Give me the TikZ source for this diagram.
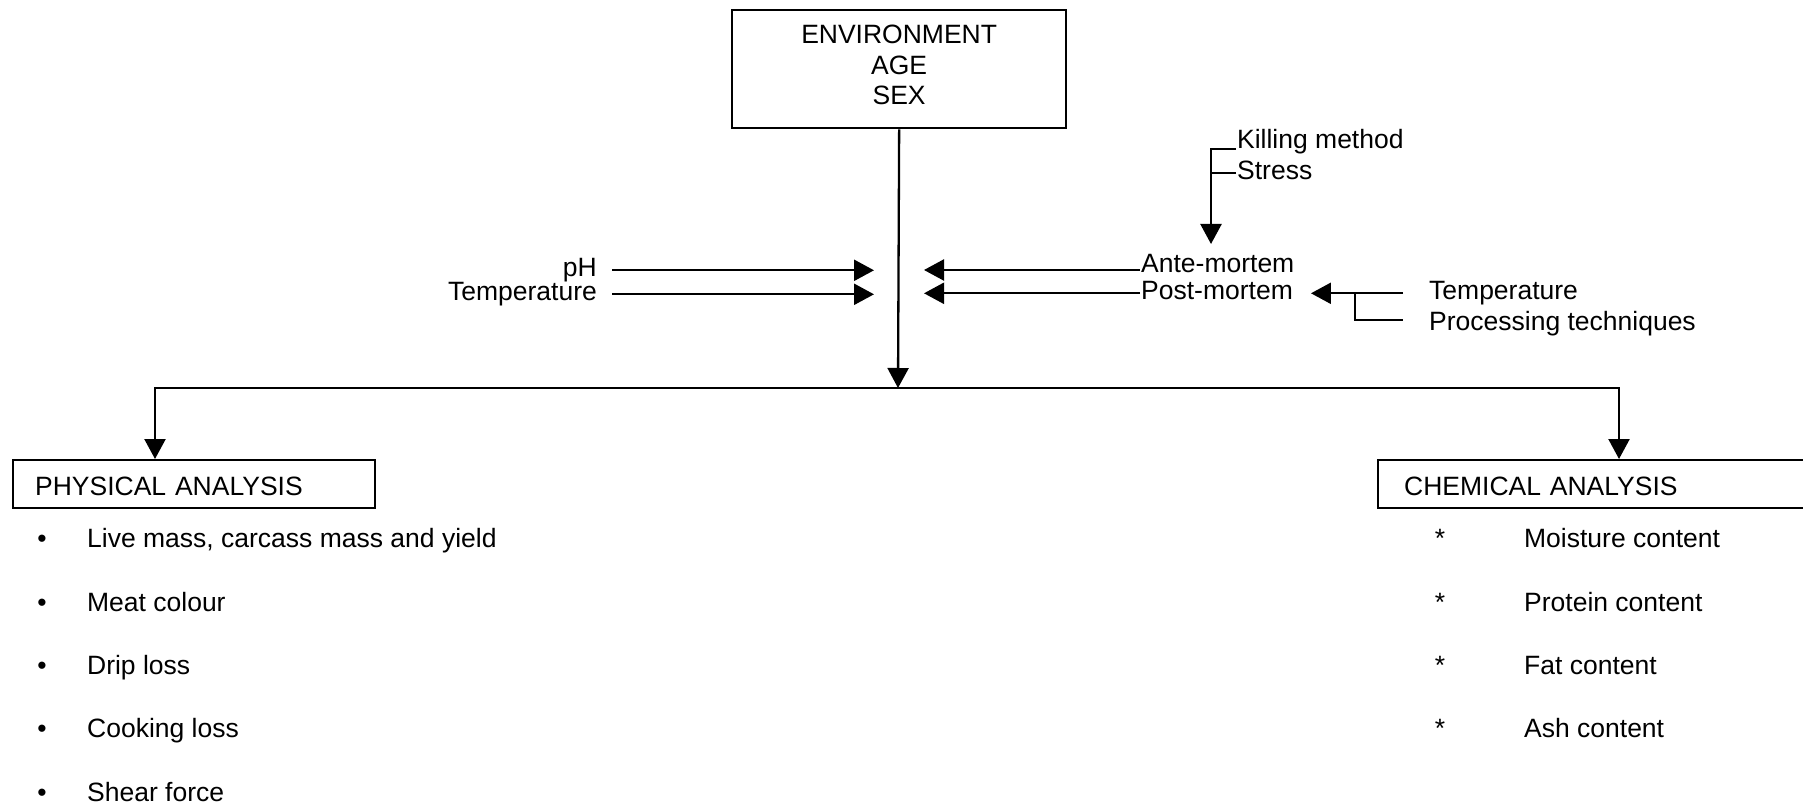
\documentclass[tikz,border=0pt]{standalone}
\usepackage{fontspec}
\setmainfont{Liberation Sans}
\usetikzlibrary{arrows.meta}
\begin{document}
\begin{tikzpicture}[x=0.5pt,y=-0.5pt,
  font=\fontsize{13.25}{15.25}\selectfont,
  line width=1.15pt,
  arr/.style={-{Triangle[length=10pt,width=10.5pt]}},
  lbl/.style={inner sep=0pt, text height=9.5pt, text depth=2.8pt},
  boxnode/.style={draw, inner ysep=0pt, text height=12pt, text depth=1pt, minimum height=24pt, align=left}]
\useasboundingbox[fill=white] (0,0) rectangle (1803,807);

% top box
\node[draw, anchor=north west, minimum width=167pt, minimum height=59pt, align=center, inner sep=0pt] (env) at (731,9)
  {ENVIRONMENT\\AGE\\SEX\rule[-4pt]{0pt}{0pt}};

% left inputs
\node[lbl, anchor=base east] (ph) at (598,277) {pH};
\node[lbl, anchor=base east] (templ) at (598,301) {Temperature};
\coordinate (inL1) at (874,270.3);
\coordinate (inL2) at (874,294.3);
\draw[arr] ([xshift=7pt]ph.east) -- (inL1);
\draw[arr] ([xshift=7pt]templ.east) -- (inL2);

% right inputs
\node[lbl, anchor=base west] (ante) at (1140,273) {Ante-mortem};
\node[lbl, anchor=base west] (post) at (1140,300) {Post-mortem};
\coordinate (inR1) at (924,270);
\coordinate (inR2) at (924,293.3);
\draw[arr] ([yshift=-1.85pt]ante.west) -- (inR1);
\draw[arr] (post.west) -- (inR2);

% killing method / stress
\node[lbl, anchor=base west] (kill) at (1236,149) {Killing method};
\node[lbl, anchor=base west] (stress) at (1236,180) {Stress};
\coordinate (ka) at (1211,244);
\draw[arr] (kill.base west) -- (kill.base west -| ka) -- (ka);
\draw ([yshift=3.5pt]stress.base west) -- ([yshift=3.5pt]stress.base west -| ka);

% temperature / processing
\node[lbl, anchor=base west] (tempr) at (1428,300) {Temperature};
\node[lbl, anchor=base west] (proc) at (1428,331) {Processing techniques};
\draw[arr] ([xshift=-12.5pt]tempr.west) -- ([xshift=8.5pt]post.east);
\coordinate (bk) at (1355,293.3);
\coordinate (bkE) at (1403,320);
\draw (bk) |- (bkE);

% main stem
\coordinate (j) at (898,388);
\draw[arr] (env.south) -- (j);

% analysis boxes
\node[boxnode, anchor=north west, inner xsep=11pt, text width=159pt] (phys) at (12,459) {PHYSICAL ANALYSIS};
\node[boxnode, anchor=north west, inner xsep=13pt, text width=194pt] (chem) at (1377,459) {CHEMICAL ANALYSIS};
\draw[arr] (j) -| ([xshift=71.5pt]phys.north west);
\draw[arr] (j) -| ([xshift=121pt]chem.north west);

% physical list
\foreach \i/\y/\t in {1/547.5/{Live mass, carcass mass and yield},2/611.5/Meat colour,3/674.5/Drip loss,4/737.5/Cooking loss,5/801.5/Shear force}{
  \node[inner sep=0pt, anchor=base] (pb\i) at (42,\y) {•};
  \node[inner sep=0pt, anchor=base west] (pi\i) at (86,\y) {\t};
}
% chemical list
\foreach \i/\y/\t in {1/547.5/Moisture content,2/611.5/Protein content,3/674.5/Fat content,4/737.5/Ash content}{
  \node[inner sep=0pt, anchor=base] (cb\i) at (1440,\y) {*};
  \node[inner sep=0pt, anchor=base west] (ci\i) at (1523,\y) {\t};
}
\end{tikzpicture}
\end{document}
